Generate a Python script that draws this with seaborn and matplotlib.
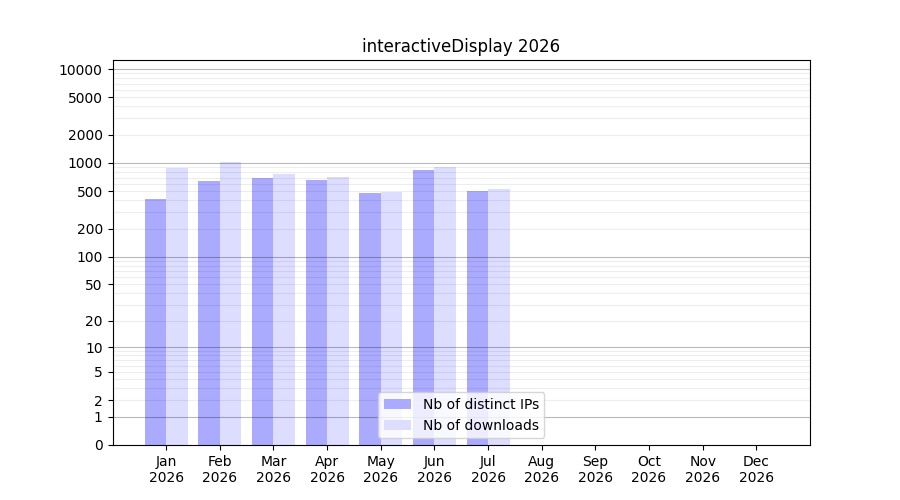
import numpy as np
import pandas as pd
import seaborn as sns
import matplotlib
matplotlib.use("Agg")
import matplotlib.pyplot as plt
from matplotlib.ticker import FixedLocator

# Datos
months = ["Jan", "Feb", "Mar", "Apr", "May", "Jun",
          "Jul", "Aug", "Sep", "Oct", "Nov", "Dec"]
year = "2026"
months_with_data = ["Jan", "Feb", "Mar", "Apr", "May", "Jun", "Jul"]
distinct_ips = [410, 640, 690, 655, 476, 837, 499]
downloads = [880, 1018, 760, 705, 491, 900, 525]

ytick_values = [0, 1, 2, 5, 10, 20, 50, 100, 200, 500, 1000, 2000, 5000, 10000]
decades = [1, 10, 100, 1000, 10000]

label_ips = "Nb of distinct IPs"
label_dl = "Nb of downloads"

df = pd.DataFrame({
    "month": months_with_data * 2,
    "value": distinct_ips + downloads,
    "serie": [label_ips] * len(distinct_ips) + [label_dl] * len(downloads),
})

fig, ax = plt.subplots(figsize=(9, 5), dpi=100)

# escala log10(1 + x)
ax.set_yscale("function", functions=(lambda v: np.log10(np.clip(v, 0, None) + 1),
                                     lambda v: 10 ** v - 1))

sns.barplot(data=df, x="month", y="value", hue="serie",
            order=months, hue_order=[label_ips, label_dl],
            palette=["#aaaaff", "#ddddff"], saturation=1,
            width=0.8, gap=0, errorbar=None, ax=ax)

ax.set_ylim(0, 12470)
ax.set_xlim(-1, 12)
ax.set_yticks(ytick_values)
ax.set_yticklabels([str(v) for v in ytick_values])

minor = []
for d in [1, 10, 100, 1000]:
    for m in [3, 4, 6, 7, 8, 9]:
        minor.append(d * m)
ax.yaxis.set_minor_locator(FixedLocator(minor))
ax.tick_params(axis="y", which="minor", length=0)

ax.set_axisbelow(False)
ax.yaxis.grid(True, which="both", color="k", alpha=0.07, linewidth=0.8)
for d in decades:
    ax.axhline(d, color="k", alpha=0.22, linewidth=0.8, zorder=3)

ax.set_xticks(range(len(months)))
ax.set_xticklabels([m + "\n" + year for m in months])
ax.set_xlabel("")
ax.set_ylabel("")
ax.set_title("interactiveDisplay " + year)
ax.legend(loc="lower center", title=None)

plt.savefig("out.png", dpi=100)
